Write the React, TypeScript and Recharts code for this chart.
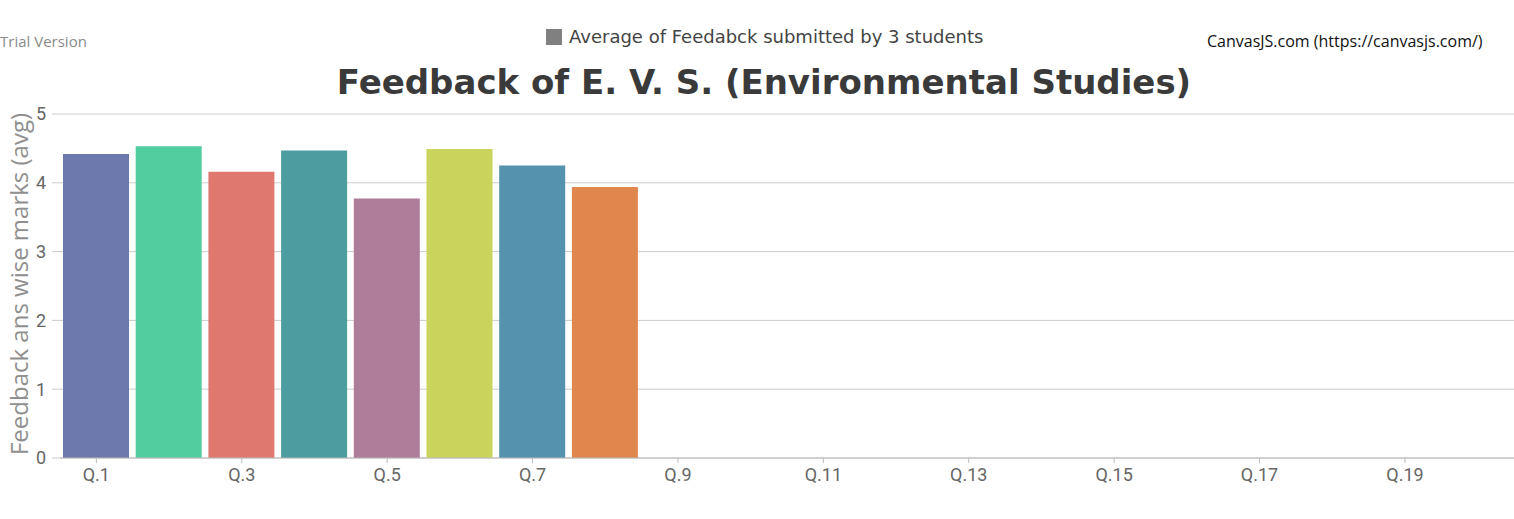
import * as React from 'react';
import { Bar, BarChart, CartesianGrid, Cell, XAxis, YAxis } from 'recharts';

const questions = [
    'Q.1', 'Q.2', 'Q.3', 'Q.4', 'Q.5', 'Q.6', 'Q.7', 'Q.8', 'Q.9', 'Q.10',
    'Q.11', 'Q.12', 'Q.13', 'Q.14', 'Q.15', 'Q.16', 'Q.17', 'Q.18', 'Q.19', 'Q.20'];

const averages = [4.42, 4.53, 4.16, 4.47, 3.77, 4.49, 4.25, 3.94,
    null, null, null, null, null, null, null, null, null, null, null, null];

const yTicks = [0, 1, 2, 3, 4, 5];

const colors = ['#6D78AD', '#51CDA0', '#DF7970', '#4C9CA0', '#AE7D99', '#C9D45C', '#5592AD', '#DF874D'];

const data = questions.map((q, i) => ({ name: q, avg: averages[i] }));

export default class App extends React.Component {
    public render() {
        return (
            <div style={{ position: 'absolute', left: 0, top: 0, width: 1514, height: 519, background: '#fff' }}>
                <div style={{ position: 'absolute', left: 0, top: 31, fontFamily: 'Open Sans', fontSize: 15, color: '#8a8a8a' }}>
                    Trial Version
                </div>
                <div style={{ position: 'absolute', left: 1207, top: 30, fontFamily: 'Open Sans', fontSize: 16, color: '#111' }}>
                    CanvasJS.com (https://canvasjs.com/)
                </div>
                <div style={{ position: 'absolute', left: 546, top: 28, display: 'flex', alignItems: 'center' }}>
                    <span style={{ display: 'inline-block', width: 16, height: 16, background: '#808080' }} />
                    <span style={{ marginLeft: 7, fontFamily: 'DejaVu Sans', fontSize: 18, color: '#444', lineHeight: '18px' }}>
                        Average of Feedabck submitted by 3 students
                    </span>
                </div>
                <div style={{ position: 'absolute', left: 0, width: 1528, top: 60, textAlign: 'center', fontFamily: 'DejaVu Sans', fontWeight: 'bold', fontSize: 34, color: '#3a3a3a', lineHeight: '44px' }}>
                    Feedback of E. V. S. (Environmental Studies)
                </div>
                <div style={{ position: 'absolute', left: 18, top: 284, transform: 'translate(-50%, -50%) rotate(-90deg)', whiteSpace: 'nowrap', fontFamily: 'Open Sans', fontSize: 24, color: '#8f8f8f' }}>
                    Feedback ans wise marks (avg)
                </div>
                <BarChart width={1514} height={519} data={data} margin={{ top: 114, right: 0, bottom: 31, left: 10 }}>
                    <CartesianGrid vertical={false} stroke="#cccccc" />
                    <XAxis dataKey="name" interval={1} height={30} axisLine={{ stroke: '#bbbbbb' }}
                        tickLine={{ stroke: '#bbbbbb' }} tickSize={5} tickMargin={5}
                        tick={{ fill: '#666', fontSize: 18, fontFamily: 'Roboto' }} />
                    <YAxis width={50} domain={[0, 5]} ticks={yTicks} axisLine={false}
                        tickLine={{ stroke: '#cccccc' }} tickSize={8} tickMargin={6}
                        tick={{ fill: '#666', fontSize: 18, fontFamily: 'Roboto' }} />
                    <Bar dataKey="avg" barSize={66} isAnimationActive={false}>
                        {data.map((d, i) => (
                            <Cell key={d.name} fill={colors[i % colors.length]} />
                        ))}
                    </Bar>
                </BarChart>
            </div>
        );
    }
}
